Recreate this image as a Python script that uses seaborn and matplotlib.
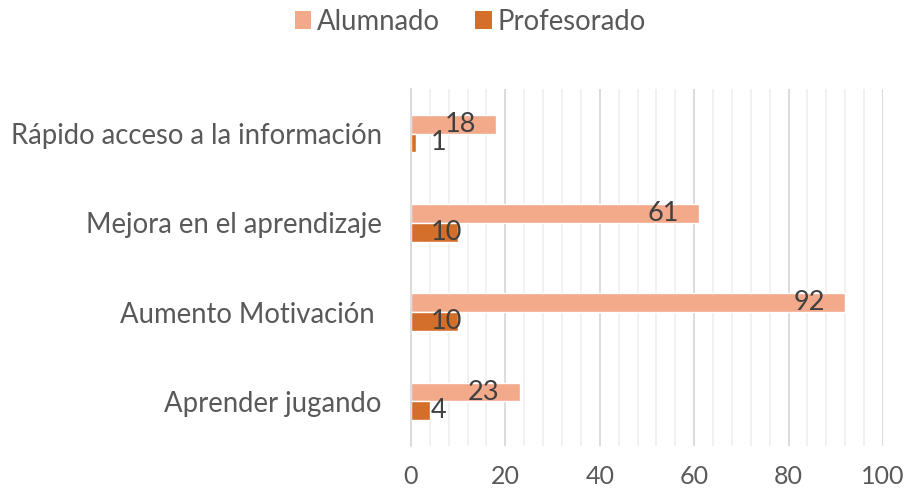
import matplotlib
matplotlib.use("Agg")
import matplotlib.pyplot as plt
import seaborn as sns
import pandas as pd
from matplotlib.ticker import MultipleLocator, FixedLocator
from matplotlib.patches import Patch

categories = ["Rápido acceso a la información", "Mejora en el aprendizaje",
              "Aumento Motivación ", "Aprender jugando"]
alumnado = [18, 61, 92, 23]
profesorado = [1, 10, 10, 4]
series = ["Alumnado", "Profesorado"]
colors = ["#F2AA8B", "#D36F2A"]
xticks = [0, 20, 40, 60, 80, 100]

df = pd.DataFrame({
    "cat": categories * 2,
    "val": alumnado + profesorado,
    "serie": [series[0]] * len(categories) + [series[1]] * len(categories),
})

sns.set_theme(style="white")
plt.rcParams["font.family"] = ["Lato", "DejaVu Sans"]

fig = plt.figure(figsize=(9.06, 4.98), dpi=100)
ax = fig.add_axes([0.4536, 0.1044, 0.5210, 0.7169])

sns.barplot(data=df, y="cat", x="val", hue="serie", orient="h",
            palette=colors, width=0.42, ax=ax, legend=False,
            order=categories, hue_order=series, saturation=1)

ax.set_xlim(0, 100)
ax.set_ylim(3.5, -0.5)
ax.set_xlabel("")
ax.set_ylabel("")
ax.xaxis.set_major_locator(FixedLocator(xticks))
ax.xaxis.set_minor_locator(MultipleLocator(4))
ax.grid(True, axis="x", which="major", color="#D9D9D9", linewidth=1.3)
ax.grid(True, axis="x", which="minor", color="#F0F0F0", linewidth=1.3)
ax.grid(False, axis="y")
ax.set_axisbelow(True)
for s in ["top", "right", "bottom"]:
    ax.spines[s].set_visible(False)
ax.spines["left"].set_color("#D9D9D9")
ax.spines["left"].set_linewidth(1.3)

ax.tick_params(axis="x", which="both", length=0, labelsize=18,
               labelcolor="#595959", pad=14)
ax.tick_params(axis="y", which="major", length=0, labelsize=19.8,
               labelcolor="#595959", pad=21)
ax.yaxis.set_minor_locator(FixedLocator([-0.5, 0.5, 1.5, 2.5, 3.5]))
ax.tick_params(axis="y", which="minor", length=5.5, width=1.3,
               color="#D9D9D9", direction="out")

# data labels
for cont, name in zip(ax.containers, series):
    for rect, v in zip(cont, alumnado if name == series[0] else profesorado):
        yc = rect.get_y() + rect.get_height() / 2
        if name == series[0]:
            ax.text(v - 4.2, yc, f"{v}", ha="right", va="center",
                    fontsize=19.5, color="#404040")
        else:
            ax.text(4.2, yc, f"{v}", ha="left", va="center",
                    fontsize=19.5, color="#404040")

handles = [Patch(facecolor=c, edgecolor="none") for c in colors]
fig.legend(handles, series, loc="center", bbox_to_anchor=(0.519, 0.956),
           ncol=2, frameon=False, fontsize=19.8, handlelength=0.6,
           handleheight=0.6, handletextpad=0.2, columnspacing=1.3,
           labelcolor="#595959")

fig.savefig("out.png", dpi=100)
